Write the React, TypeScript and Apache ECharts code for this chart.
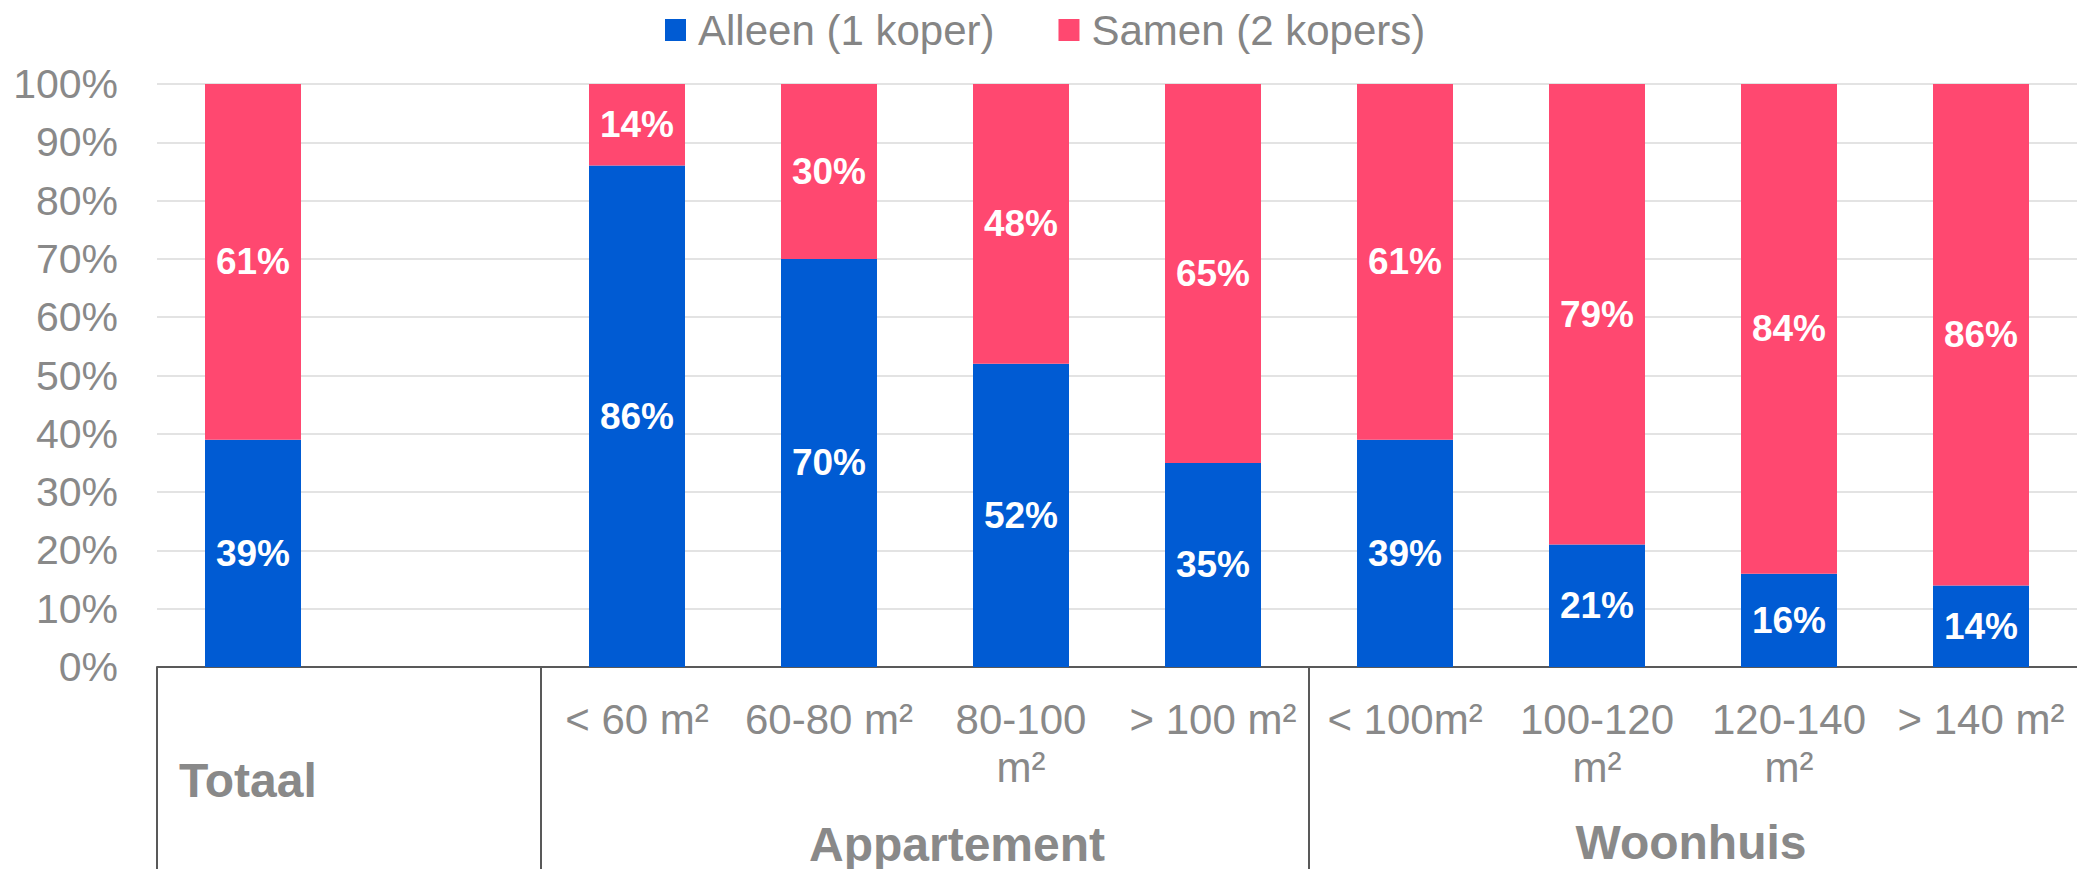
import React, { useEffect, useRef } from "react";
import * as echarts from "echarts";

// ---- data ----
const categories = ["", "", "< 60 m²", "60-80 m²", "80-100\nm²", "> 100 m²", "< 100m²", "100-120\nm²", "120-140\nm²", "> 140 m²"];
const alleen = [39, null, 86, 70, 52, 35, 39, 21, 16, 14];
const samen = [61, null, 14, 30, 48, 65, 61, 79, 84, 86];
const seriesNames = ["Alleen (1 koper)", "Samen (2 kopers)"];
const groupNames = ["Totaal", "Appartement", "Woonhuis"];
const groupStarts = [0, 2, 6];
const groupEnds = [1, 5, 9];
const yTicks = [0, 100, 10]; // min, max, interval

// ---- styles / layout ----
const FONT = "'Liberation Sans', Arial, sans-serif";
const GRAY = "#898989";
const BLUE = "#005BD3";
const PINK = "#FF4870";
const AXIS = "#595959";
const groupLayout = [
  { align: "left", dx: 22, dy: 113 },
  { align: "center", dx: 32, dy: 177 },
  { align: "center", dx: -2, dy: 175 },
];

export default function App() {
  const ref = useRef<HTMLDivElement>(null);
  useEffect(() => {
    const chart = echarts.init(ref.current!, null, { renderer: "svg" });
    const labelStyle = {
      show: true,
      position: "inside",
      color: "#fff",
      fontFamily: FONT,
      fontWeight: "bold",
      fontSize: 37,
      formatter: (p: any) => (p.value == null ? "" : p.value + "%"),
    };
    chart.setOption({
      animation: false,
      textStyle: { fontFamily: FONT },
      legend: {
        left: 665,
        top: 8,
        padding: 0,
        itemWidth: 21,
        itemHeight: 22,
        itemGap: 64,
        icon: "rect",
        textStyle: { fontSize: 42, color: "#858585", fontFamily: FONT, lineHeight: 44, padding: [0, 0, 0, 7] },
        data: seriesNames,
      },
      grid: { left: 157, right: 0, top: 84, bottom: 202, containLabel: false, outerBoundsMode: "none" },
      xAxis: {
        type: "category",
        data: categories,
        axisLine: { show: true, lineStyle: { color: AXIS, width: 2 } },
        axisTick: { show: false },
        axisLabel: {
          interval: 0,
          fontSize: 42,
          color: GRAY,
          fontFamily: FONT,
          lineHeight: 48,
          margin: 28,
        },
      },
      yAxis: {
        type: "value",
        min: yTicks[0],
        max: yTicks[1],
        interval: yTicks[2],
        axisLine: { show: false },
        axisTick: { show: false },
        axisLabel: { formatter: "{value}%", fontSize: 41, color: GRAY, fontFamily: FONT, margin: 39 },
        splitLine: { lineStyle: { color: "#E3E3E3", width: 2 } },
      },
      series: [
        { name: seriesNames[0], type: "bar", stack: "t", barWidth: "50%", data: alleen, itemStyle: { color: BLUE }, label: labelStyle },
        { name: seriesNames[1], type: "bar", stack: "t", barWidth: "50%", data: samen, itemStyle: { color: PINK }, label: labelStyle },
      ],
    });

    const cx = (i: number) => chart.convertToPixel({ xAxisIndex: 0 }, i) as number;
    const band = cx(1) - cx(0);
    const y0 = chart.convertToPixel({ yAxisIndex: 0 }, 0) as number;
    const h = chart.getHeight();
    const graphic: any[] = [];
    groupNames.forEach((name, g) => {
      const left = cx(groupStarts[g]) - band / 2;
      graphic.push({
        type: "line",
        shape: { x1: left, y1: y0, x2: left, y2: h },
        style: { stroke: AXIS, lineWidth: 2 },
      });
      const lay = groupLayout[g];
      const x = lay.align === "left" ? left + lay.dx : (cx(groupStarts[g]) + cx(groupEnds[g])) / 2 + lay.dx;
      graphic.push({
        type: "text",
        x,
        y: y0 + lay.dy,
        style: {
          text: name,
          fontFamily: FONT,
          fontWeight: "bold",
          fontSize: 48,
          fill: GRAY,
          align: lay.align,
          verticalAlign: "middle",
        },
      });
    });
    chart.setOption({ graphic });
    return () => chart.dispose();
  }, []);
  return <div ref={ref} style={{ position: "fixed", left: 0, top: 0, width: 2077, height: 869, background: "#fff" }} />;
}
